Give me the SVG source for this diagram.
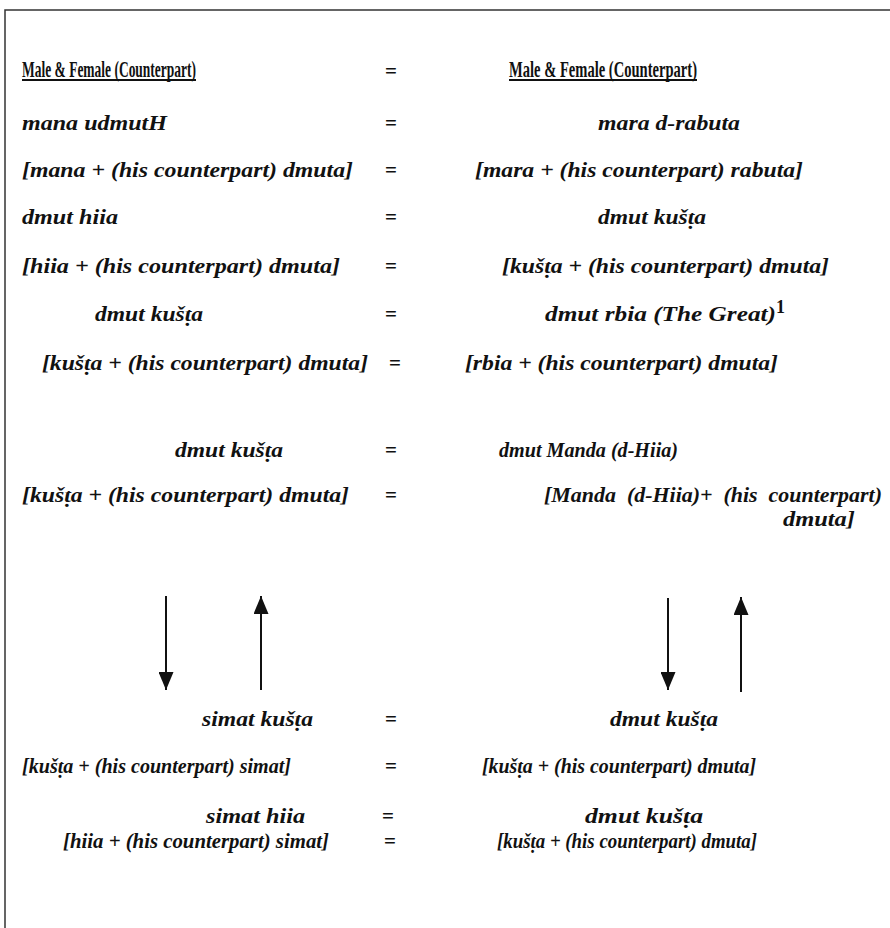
<svg xmlns="http://www.w3.org/2000/svg" width="890" height="928" viewBox="0 0 890 928">
<style>
.t{font-family:"Liberation Serif","Times New Roman",serif;font-weight:bold;font-style:italic;font-size:22px;fill:#111}
.h{font-family:"Liberation Serif","Times New Roman",serif;font-weight:bold;font-size:24px;fill:#111}
.eq{font-family:"Liberation Serif","Times New Roman",serif;font-weight:bold;font-size:21px;fill:#111;text-anchor:middle}
.sup{font-style:normal;font-size:18px}
.frame{stroke:#333;stroke-width:1.5;fill:none}
.ul{stroke:#111;stroke-width:1.8}
.arr{stroke:#111;stroke-width:2;fill:none;marker-end:url(#ah)}
</style>
<defs>
<marker id="ah" viewBox="0 0 18 15" refX="18" refY="7.5" markerWidth="18" markerHeight="15" markerUnits="userSpaceOnUse" orient="auto">
<path d="M0,0 L18,7.5 L0,15 Z" fill="#111"/>
</marker>
</defs>
<rect width="890" height="928" fill="#fff"/>
<path class="frame" d="M5,928 L5,10 L890,10"/>

<g id="row-heading">
<text class="h" x="22" y="77" textLength="174" lengthAdjust="spacingAndGlyphs">Male &amp; Female (Counterpart)</text>
<line class="ul" x1="22" y1="80" x2="196" y2="80"/>
<text class="eq" x="391" y="78">=</text>
<text class="h" x="509" y="77" textLength="188" lengthAdjust="spacingAndGlyphs">Male &amp; Female (Counterpart)</text>
<line class="ul" x1="509" y1="80" x2="697" y2="80"/>
</g>

<g id="row-2">
<text class="t" x="22" y="130" textLength="145" lengthAdjust="spacingAndGlyphs">mana udmutH</text>
<text class="eq" x="391" y="130">=</text>
<text class="t" x="598" y="130" textLength="142" lengthAdjust="spacingAndGlyphs">mara d-rabuta</text>
</g>

<g id="row-3">
<text class="t" x="22" y="177" textLength="331" lengthAdjust="spacingAndGlyphs">[mana + (his counterpart) dmuta]</text>
<text class="eq" x="391" y="177">=</text>
<text class="t" x="475" y="177" textLength="328" lengthAdjust="spacingAndGlyphs">[mara + (his counterpart) rabuta]</text>
</g>

<g id="row-4">
<text class="t" x="22" y="224" textLength="96" lengthAdjust="spacingAndGlyphs">dmut hiia</text>
<text class="eq" x="391" y="224">=</text>
<text class="t" x="598" y="224" textLength="108" lengthAdjust="spacingAndGlyphs">dmut kušṭa</text>
</g>

<g id="row-5">
<text class="t" x="22" y="273" textLength="318" lengthAdjust="spacingAndGlyphs">[hiia + (his counterpart) dmuta]</text>
<text class="eq" x="391" y="273">=</text>
<text class="t" x="502" y="273" textLength="327" lengthAdjust="spacingAndGlyphs">[kušṭa + (his counterpart) dmuta]</text>
</g>

<g id="row-6">
<text class="t" x="95" y="321" textLength="108" lengthAdjust="spacingAndGlyphs">dmut kušṭa</text>
<text class="eq" x="391" y="321">=</text>
<text class="t" x="545" y="321" textLength="231" lengthAdjust="spacingAndGlyphs">dmut rbia (The Great)</text>
<text class="t sup" x="776" y="313">1</text>
</g>

<g id="row-7">
<text class="t" x="42" y="370" textLength="326" lengthAdjust="spacingAndGlyphs">[kušṭa + (his counterpart) dmuta]</text>
<text class="eq" x="395" y="370">=</text>
<text class="t" x="465" y="370" textLength="313" lengthAdjust="spacingAndGlyphs">[rbia + (his counterpart) dmuta]</text>
</g>

<g id="row-8">
<text class="t" x="175" y="457" textLength="108" lengthAdjust="spacingAndGlyphs">dmut kušṭa</text>
<text class="eq" x="391" y="457">=</text>
<text class="t" x="499" y="457" textLength="179" lengthAdjust="spacingAndGlyphs">dmut Manda (d-Hiia)</text>
</g>

<g id="row-9">
<text class="t" x="22" y="502" textLength="327" lengthAdjust="spacingAndGlyphs">[kušṭa + (his counterpart) dmuta]</text>
<text class="eq" x="391" y="502">=</text>
<text class="t" x="544" y="502" textLength="338" lengthAdjust="spacingAndGlyphs" xml:space="preserve">[Manda  (d-Hiia)+  (his  counterpart)</text>
<text class="t" x="783" y="526" textLength="72" lengthAdjust="spacingAndGlyphs">dmuta]</text>
</g>

<g id="connectors">
<line class="arr" x1="166" y1="596" x2="166" y2="690"/>
<line class="arr" x1="261" y1="690" x2="261" y2="596"/>
<line class="arr" x1="668" y1="598" x2="668" y2="690"/>
<line class="arr" x1="741" y1="692" x2="741" y2="597"/>
</g>

<g id="row-10">
<text class="t" x="202" y="726" textLength="111" lengthAdjust="spacingAndGlyphs">simat kušṭa</text>
<text class="eq" x="391" y="726">=</text>
<text class="t" x="610" y="726" textLength="108" lengthAdjust="spacingAndGlyphs">dmut kušṭa</text>
</g>

<g id="row-11">
<text class="t" x="22" y="773" textLength="269" lengthAdjust="spacingAndGlyphs">[kušṭa + (his counterpart) simat]</text>
<text class="eq" x="391" y="773">=</text>
<text class="t" x="482" y="773" textLength="274" lengthAdjust="spacingAndGlyphs">[kušṭa + (his counterpart) dmuta]</text>
</g>

<g id="row-12">
<text class="t" x="206" y="823" textLength="99" lengthAdjust="spacingAndGlyphs">simat hiia</text>
<text class="eq" x="388" y="823">=</text>
<text class="t" x="585" y="823" textLength="118" lengthAdjust="spacingAndGlyphs">dmut kušṭa</text>
</g>

<g id="row-13">
<text class="t" x="63" y="848" textLength="266" lengthAdjust="spacingAndGlyphs">[hiia + (his counterpart) simat]</text>
<text class="eq" x="390" y="848">=</text>
<text class="t" x="497" y="848" textLength="260" lengthAdjust="spacingAndGlyphs">[kušṭa + (his counterpart) dmuta]</text>
</g>
</svg>
